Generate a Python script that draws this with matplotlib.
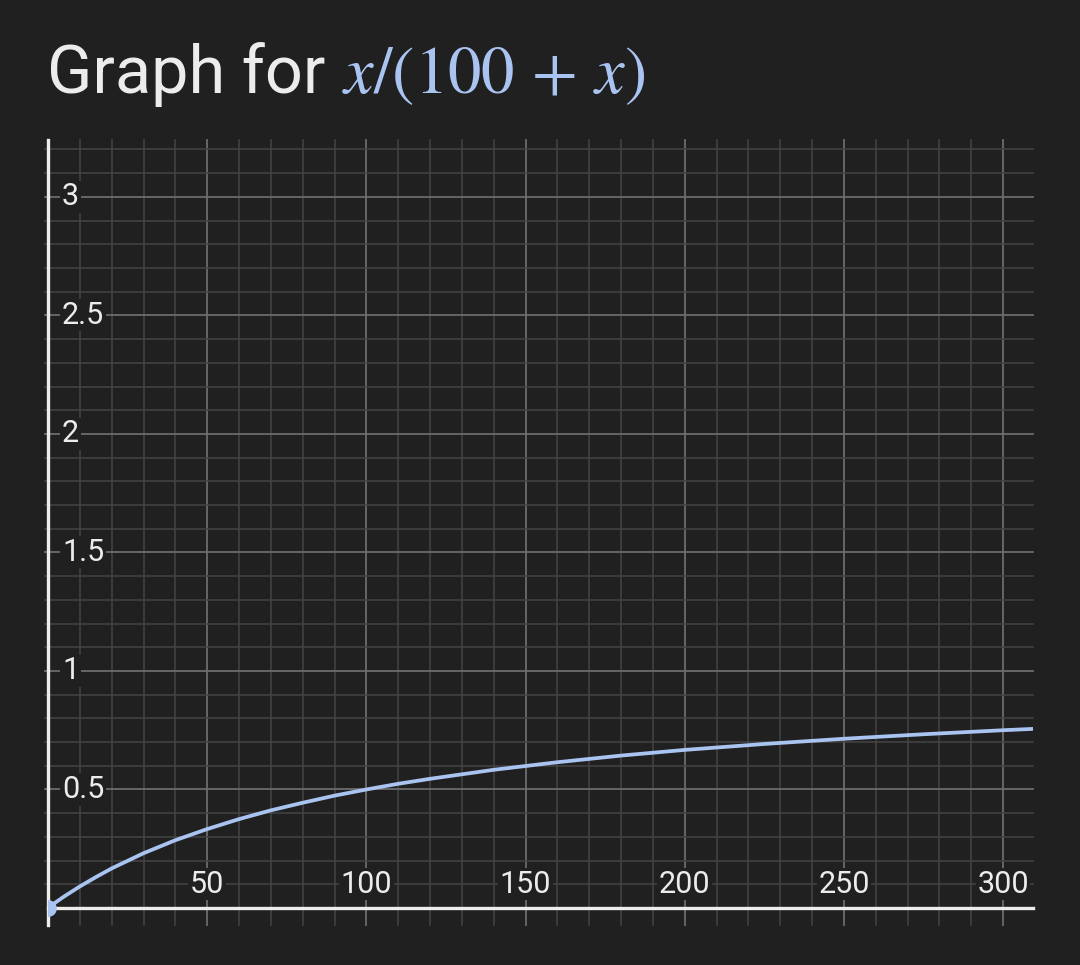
import matplotlib
matplotlib.use('Agg')
import matplotlib.pyplot as plt
from matplotlib.patches import Rectangle

# points
xs = [0, 2, 5, 10, 15, 20, 30, 40, 50, 60, 70, 80, 90, 100, 110, 120, 140,
      160, 180, 200, 225, 250, 275, 300, 310]
ys = [0.0, 0.020, 0.048, 0.091, 0.130, 0.167, 0.231, 0.286, 0.333, 0.375,
      0.412, 0.444, 0.474, 0.500, 0.524, 0.545, 0.583, 0.615, 0.643, 0.667,
      0.692, 0.714, 0.733, 0.750, 0.756]

x_ticks = [50, 100, 150, 200, 250, 300]
y_ticks = [0.5, 1, 1.5, 2, 2.5, 3]
y_labels = ['0.5', '1', '1.5', '2', '2.5', '3']

bg = '#202020'
fg = '#ececec'
curve = '#aac4f2'

plt.rcParams['font.family'] = ['Roboto', 'DejaVu Sans']
plt.rcParams['mathtext.fontset'] = 'stix'

fig = plt.figure(figsize=(10.8, 9.65), dpi=100, facecolor=bg)
ax = fig.add_axes([48 / 1080, 57 / 965, 985 / 1080, 768 / 965])
ax.set_facecolor(bg)
ax.set_xlim(0, 309.4)
ax.set_ylim(0, 3.24)

# grid: minor every 10 / 0.1, major every 50 / 0.5
minor_x = [v for v in range(10, 310, 10) if v % 50]
minor_y = [i / 10 for i in range(1, 33) if i % 5]
for v in minor_x:
    ax.plot([v, v], [-0.072, 3.24], color='#444444', lw=1.1, clip_on=False, zorder=1)
for v in x_ticks:
    ax.plot([v, v], [-0.072, 3.24], color='#6c6c6c', lw=1.3, clip_on=False, zorder=1)
for v in minor_y:
    ax.plot([-1.0, 309.4], [v, v], color='#444444', lw=1.1, clip_on=False, zorder=1)
for v in y_ticks:
    ax.plot([-1.0, 309.4], [v, v], color='#6c6c6c', lw=1.3, clip_on=False, zorder=1)

for s in ax.spines.values():
    s.set_visible(False)
ax.set_xticks([])
ax.set_yticks([])

# axes lines
ax.plot([0, 309.4], [0, 0], color=fg, lw=2.4, clip_on=False, zorder=4)
ax.plot([0, 0], [-0.072, 3.24], color=fg, lw=2.4, clip_on=False, zorder=4)

# tick labels inside the plot
for v in x_ticks:
    ax.text(v, 0.1, str(v), color=fg, fontsize=22, ha='center', va='center',
            zorder=3, bbox=dict(facecolor=bg, edgecolor='none', pad=1))
for v, lab in zip(y_ticks, y_labels):
    ax.text(4.4, v, lab, color=fg, fontsize=22, ha='left', va='center',
            zorder=3, bbox=dict(facecolor=bg, edgecolor='none', pad=1))

ax.plot(xs, ys, color=curve, lw=2.7, zorder=5, solid_capstyle='butt')
dot, = ax.plot([xs[0]], [ys[0]], 'o', color=curve, ms=11, zorder=6)
dot.set_clip_path(Rectangle((0, -0.3), 320, 4, transform=ax.transData))

# title
t1 = fig.text(47 / 1080, 1 - 93 / 965, 'Graph for ', color=fg, fontsize=48,
              ha='left', va='baseline')
fig.canvas.draw()
bb = t1.get_window_extent()
fig.text(bb.x1 / 1080, 1 - 93 / 965, r'$x/(100\,+\,x)$', color=curve, fontsize=48,
         ha='left', va='baseline')

fig.savefig('out.png', dpi=100, facecolor=bg)
